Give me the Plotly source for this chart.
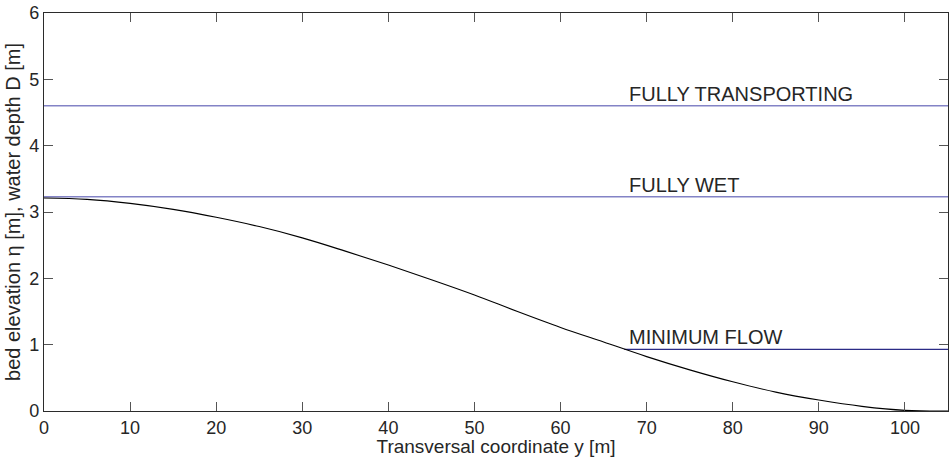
import plotly.graph_objects as go

# Cross-section bed profile (transversal coordinate y [m] -> bed elevation eta [m])
y_coord = [0, 5, 10, 15, 20, 25, 30, 35, 40, 45, 50, 55, 60, 65, 70, 75, 80, 85, 90, 95, 100, 105]
bed_eta = [3.21, 3.19, 3.13, 3.04, 2.92, 2.78, 2.61, 2.41, 2.20, 1.98, 1.75, 1.50, 1.26, 1.04,
           0.82, 0.62, 0.44, 0.285, 0.165, 0.07, 0.01, 0.0]

# Water levels for the three flow states
level_names = ["FULLY TRANSPORTING", "FULLY WET", "MINIMUM FLOW"]
level_depths = [4.60, 3.23, 0.93]
level_start = [0, 0, 67.4]
level_end = [105, 105, 105]
level_colors = ["#8383c6", "#8383c6", "#2b2b86"]
level_widths = [1.5, 1.5, 1.2]
label_x = 67.7

font_family = "Liberation Sans, Arial, sans-serif"
text_color = "#262626"

fig = go.Figure()

for name, d, x0, x1, c, w in zip(level_names, level_depths, level_start, level_end,
                                  level_colors, level_widths):
    fig.add_trace(go.Scatter(x=[x0, x1], y=[d, d], mode="lines",
                             line=dict(color=c, width=w), name=name,
                             hoverinfo="skip", showlegend=False))
    fig.add_annotation(x=label_x, y=d, text=name, showarrow=False,
                       xanchor="left", yanchor="bottom", yshift=-1,
                       font=dict(family=font_family, size=20, color=text_color))

fig.add_trace(go.Scatter(x=y_coord, y=bed_eta, mode="lines", line_shape="spline",
                         line=dict(color="black", width=1.1), name="bed",
                         showlegend=False))

axis_common = dict(showline=True, linecolor="#2b2b2b", linewidth=1.2, mirror="ticks",
                   ticks="inside", ticklen=9, tickcolor="#555555", tickwidth=1,
                   showgrid=False, zeroline=False,
                   tickfont=dict(family=font_family, size=18, color=text_color))

fig.update_xaxes(range=[0, 105], dtick=10, tick0=0,
                 title=dict(text="Transversal coordinate y [m]", standoff=3,
                            font=dict(family=font_family, size=19, color=text_color)),
                 **axis_common)
fig.update_yaxes(range=[0, 6], dtick=1, tick0=0,
                 title=dict(text="bed elevation η [m], water depth D [m]", standoff=3,
                            font=dict(family=font_family, size=20, color=text_color)),
                 **axis_common)

fig.update_layout(width=952, height=457, margin=dict(l=44, r=3, t=11, b=45),
                  paper_bgcolor="white", plot_bgcolor="white",
                  font=dict(family=font_family, color=text_color))

fig.write_html("out.html")
